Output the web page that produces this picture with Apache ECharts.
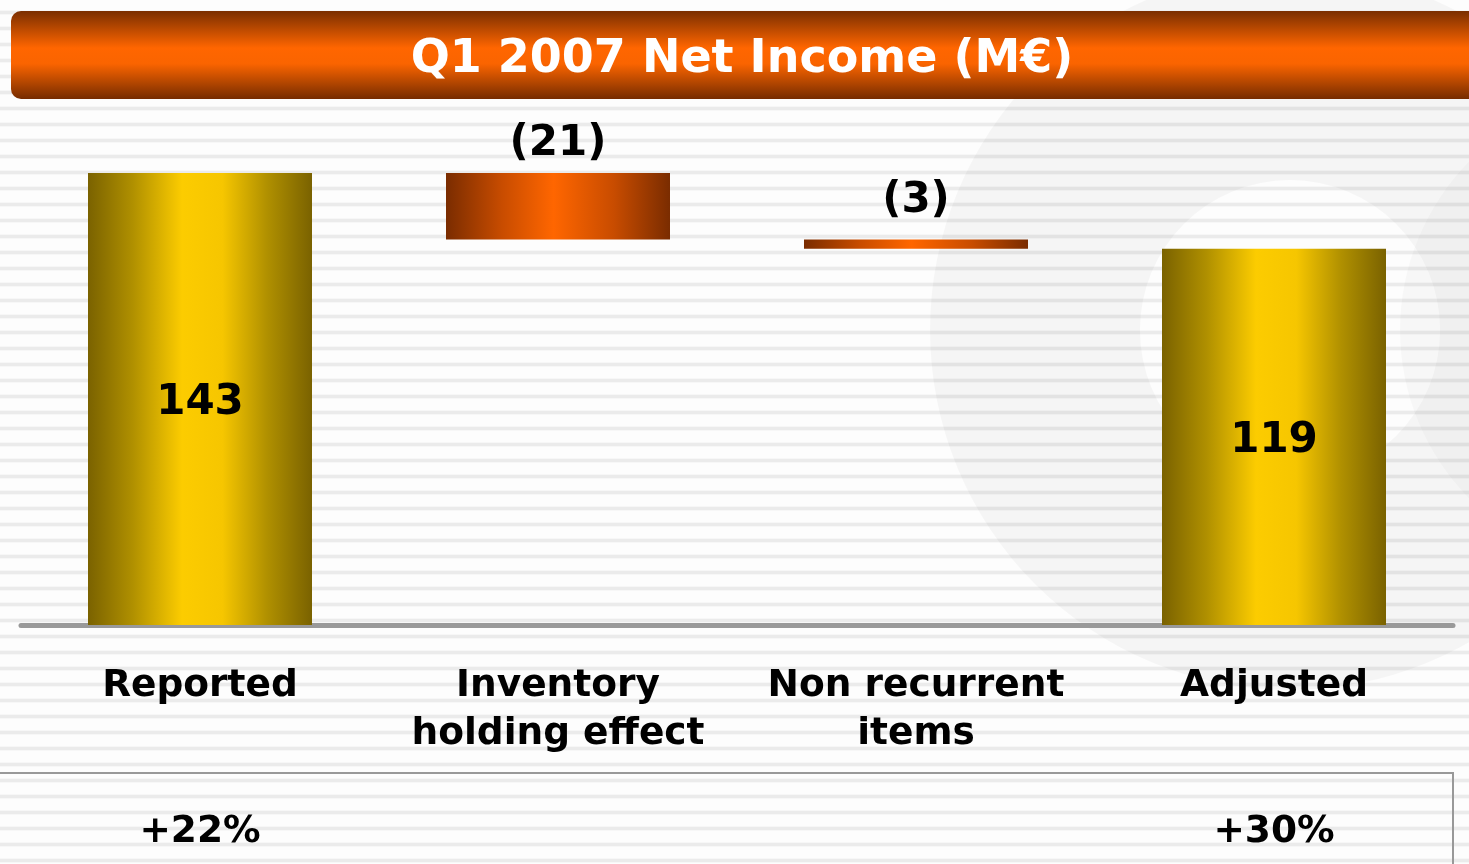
<!DOCTYPE html>
<html><head><meta charset="utf-8">
<script src="https://cdn.jsdelivr.net/npm/echarts@6.0.0/dist/echarts.min.js"></script>
<style>
html,body{margin:0;padding:0;}
body{width:1469px;height:864px;overflow:hidden;background:#fdfdfd repeating-linear-gradient(to bottom,#fdfdfd 0px,#fdfdfd 10px,#ebebeb 11.5px,#ebebeb 13.5px,#fdfdfd 15px,#fdfdfd 16px);}
#chart{width:1469px;height:864px;}
</style></head><body><div id="chart"></div>
<script>
const titleText = 'Q1 2007 Net Income (M€)';
const categories = ['Reported', 'Inventory\nholding effect', 'Non recurrent\nitems', 'Adjusted'];
const baseValues = [0, 122, 119, 0];
const barValues = [143, 21, 3, 119];
const valueLabels = ['143', '(21)', '(3)', '119'];
const barKinds = ['total', 'decrease', 'decrease', 'total'];
const growthLabels = ['+22%', '', '', '+30%'];

const FONT = '"DejaVu Sans", Verdana, sans-serif';
const yellow = new echarts.graphic.LinearGradient(0, 0, 1, 0, [
  {offset: 0, color: '#7a6200'}, {offset: 0.2, color: '#b09000'},
  {offset: 0.42, color: '#fccc00'}, {offset: 0.6, color: '#f6c600'},
  {offset: 0.8, color: '#b09000'}, {offset: 1, color: '#7a6200'}]);
const orange = new echarts.graphic.LinearGradient(0, 0, 1, 0, [
  {offset: 0, color: '#7a2c00'}, {offset: 0.25, color: '#c84c00'},
  {offset: 0.48, color: '#ff6600'}, {offset: 0.75, color: '#c84c00'},
  {offset: 1, color: '#7a2c00'}]);
const topDist = [0, 9, 18, 0];

const chart = echarts.init(document.getElementById('chart'), null, {renderer: 'canvas'});
chart.setOption({
  backgroundColor: 'transparent',
  animation: false,
  grid: {left: 21, right: 16, top: 173, bottom: 239},
  xAxis: [{
    type: 'category', data: categories, gridIndex: 0, position: 'bottom',
    axisLine: {show: true, lineStyle: {color: '#999999', width: 5, cap: 'round'}},
    axisTick: {show: false},
    axisLabel: {interval: 0, margin: 37, color: '#000', fontFamily: FONT, fontWeight: 'bold',
      fontSize: 37.5, lineHeight: 48, align: 'center'}
  }, {
    type: 'category', data: growthLabels, gridIndex: 0, position: 'bottom', offset: 181,
    axisLine: {show: false}, axisTick: {show: false},
    axisLabel: {interval: 0, margin: 8, color: '#000', fontFamily: FONT, fontWeight: 'bold',
      fontSize: 37.5, lineHeight: 36}
  }],
  yAxis: {type: 'value', min: 0, max: 143, show: false, splitLine: {show: false}},
  graphic: [
    {type: 'ring', z: -10, silent: true, shape: {cx: 1290, cy: 330, r: 360, r0: 150},
      style: {fill: 'rgba(0,0,0,0.03)'}},
    {type: 'ring', z: -10, silent: true, shape: {cx: 1640, cy: 330, r: 240, r0: 170},
      style: {fill: 'rgba(0,0,0,0.025)'}},
    {type: 'polyline', z: 5, silent: true, shape: {points: [[0, 773], [1453, 773], [1453, 870]]},
      style: {stroke: '#999999', lineWidth: 2, fill: null}},
    {type: 'rect', z: 20, silent: true, shape: {x: 11, y: 11, width: 1490, height: 88, r: 10},
      style: {fill: new echarts.graphic.LinearGradient(0, 0, 0, 1, [
        {offset: 0, color: '#7a2e00'}, {offset: 0.42, color: '#ff6600'},
        {offset: 0.6, color: '#fa6400'}, {offset: 1, color: '#762c00'}])}},
    {type: 'text', z: 21, silent: true, x: 742, y: 60,
      style: {text: titleText, fill: '#ffffff', font: 'bold 46px ' + FONT, align: 'center', verticalAlign: 'middle'}}
  ],
  series: [{
    type: 'bar', stack: 'w', barWidth: 224, silent: true,
    itemStyle: {color: 'transparent'},
    data: baseValues
  }, {
    type: 'bar', stack: 'w', barWidth: 224, silent: true,
    data: barValues.map((v, i) => ({
      value: v,
      itemStyle: {color: barKinds[i] === 'total' ? yellow : orange},
      label: barKinds[i] === 'total'
        ? {show: true, position: 'inside', offset: [0, 4]}
        : {show: true, position: 'top', distance: topDist[i]}
    })),
    label: {
      show: true, color: '#000', fontFamily: FONT, fontWeight: 'bold', fontSize: 42, lineHeight: 40,
      formatter: p => valueLabels[p.dataIndex]
    }
  }]
});
</script></body></html>
